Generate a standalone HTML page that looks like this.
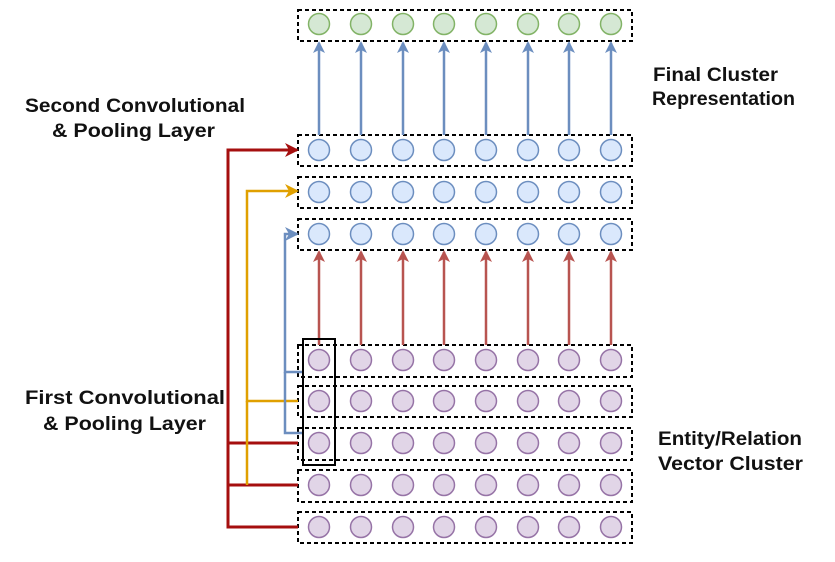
<!DOCTYPE html>
<html><head><meta charset="utf-8"><style>html,body{margin:0;padding:0;background:#fff}svg{display:block}text{font-family:"Liberation Sans",sans-serif;font-weight:bold;font-size:19px;fill:#111}</style></head>
<body>
<svg width="835" height="562" viewBox="0 0 835 562">
<defs>
<marker id="ab" markerWidth="12" markerHeight="12" refX="10" refY="6" orient="auto" markerUnits="userSpaceOnUse"><path d="M0,0 L12,6 L0,12 L3,6 z" fill="#6c8ebf"/></marker>
<marker id="ar" markerWidth="12" markerHeight="12" refX="10" refY="6" orient="auto" markerUnits="userSpaceOnUse"><path d="M0,0 L12,6 L0,12 L3,6 z" fill="#b85450"/></marker>
<marker id="ad" markerWidth="14" markerHeight="14" refX="12" refY="7" orient="auto" markerUnits="userSpaceOnUse"><path d="M0,0 L14,7 L0,14 L4,7 z" fill="#a50f0f"/></marker>
<marker id="ao" markerWidth="14" markerHeight="14" refX="12" refY="7" orient="auto" markerUnits="userSpaceOnUse"><path d="M0,0 L14,7 L0,14 L4,7 z" fill="#e0a000"/></marker>
<marker id="ab2" markerWidth="14" markerHeight="14" refX="12" refY="7" orient="auto" markerUnits="userSpaceOnUse"><path d="M0,0 L14,7 L0,14 L4,7 z" fill="#6c8ebf"/></marker>
</defs>
<g fill="none" stroke="#000" stroke-width="2" stroke-dasharray="4,3">
<rect x="298" y="10" width="334" height="31"/>
<rect x="298" y="135" width="334" height="31"/>
<rect x="298" y="177" width="334" height="31"/>
<rect x="298" y="219" width="334" height="31"/>
<rect x="298" y="345" width="334" height="32"/>
<rect x="298" y="386" width="334" height="31"/>
<rect x="298" y="428" width="334" height="32"/>
<rect x="298" y="470" width="334" height="32"/>
<rect x="298" y="512" width="334" height="31"/>
</g>
<g stroke="#6c8ebf" stroke-width="2.5" marker-end="url(#ab)">
<line x1="319" y1="135" x2="319" y2="43"/><line x1="361" y1="135" x2="361" y2="43"/><line x1="403" y1="135" x2="403" y2="43"/><line x1="444" y1="135" x2="444" y2="43"/><line x1="486" y1="135" x2="486" y2="43"/><line x1="528" y1="135" x2="528" y2="43"/><line x1="569" y1="135" x2="569" y2="43"/><line x1="611" y1="135" x2="611" y2="43"/>
</g>
<g stroke="#b85450" stroke-width="2.5" marker-end="url(#ar)">
<line x1="319" y1="345" x2="319" y2="252"/><line x1="361" y1="345" x2="361" y2="252"/><line x1="403" y1="345" x2="403" y2="252"/><line x1="444" y1="345" x2="444" y2="252"/><line x1="486" y1="345" x2="486" y2="252"/><line x1="528" y1="345" x2="528" y2="252"/><line x1="569" y1="345" x2="569" y2="252"/><line x1="611" y1="345" x2="611" y2="252"/>
</g>
<g fill="none" stroke-width="3">
<path d="M298,443 H228 V150 H297" stroke="#a50f0f" marker-end="url(#ad)"/>
<path d="M298,485 H228 M298,527 H228 V443" stroke="#a50f0f"/>
<path d="M298,401 H247 V191 H297" stroke="#e0a000" stroke-width="2.5" marker-end="url(#ao)"/>
<path d="M247,401 V485" stroke="#e0a000" stroke-width="2.5"/>
<path d="M302,372 H285 V234 H297" stroke="#6c8ebf" stroke-width="2.5" marker-end="url(#ab2)"/>
<path d="M285,372 V433 H302" stroke="#6c8ebf" stroke-width="2.5"/>
</g>
<g stroke-width="1.5">
<g fill="#d5e8d4" stroke="#82b366">
<circle cx="319" cy="24" r="10.5"/><circle cx="361" cy="24" r="10.5"/><circle cx="403" cy="24" r="10.5"/><circle cx="444" cy="24" r="10.5"/><circle cx="486" cy="24" r="10.5"/><circle cx="528" cy="24" r="10.5"/><circle cx="569" cy="24" r="10.5"/><circle cx="611" cy="24" r="10.5"/>
</g>
<g fill="#dae8fc" stroke="#6c8ebf">
<circle cx="319" cy="150" r="10.5"/><circle cx="361" cy="150" r="10.5"/><circle cx="403" cy="150" r="10.5"/><circle cx="444" cy="150" r="10.5"/><circle cx="486" cy="150" r="10.5"/><circle cx="528" cy="150" r="10.5"/><circle cx="569" cy="150" r="10.5"/><circle cx="611" cy="150" r="10.5"/>
<circle cx="319" cy="192" r="10.5"/><circle cx="361" cy="192" r="10.5"/><circle cx="403" cy="192" r="10.5"/><circle cx="444" cy="192" r="10.5"/><circle cx="486" cy="192" r="10.5"/><circle cx="528" cy="192" r="10.5"/><circle cx="569" cy="192" r="10.5"/><circle cx="611" cy="192" r="10.5"/>
<circle cx="319" cy="234" r="10.5"/><circle cx="361" cy="234" r="10.5"/><circle cx="403" cy="234" r="10.5"/><circle cx="444" cy="234" r="10.5"/><circle cx="486" cy="234" r="10.5"/><circle cx="528" cy="234" r="10.5"/><circle cx="569" cy="234" r="10.5"/><circle cx="611" cy="234" r="10.5"/>
</g>
<g fill="#e1d5e7" stroke="#9673a6">
<circle cx="319" cy="360" r="10.5"/><circle cx="361" cy="360" r="10.5"/><circle cx="403" cy="360" r="10.5"/><circle cx="444" cy="360" r="10.5"/><circle cx="486" cy="360" r="10.5"/><circle cx="528" cy="360" r="10.5"/><circle cx="569" cy="360" r="10.5"/><circle cx="611" cy="360" r="10.5"/>
<circle cx="319" cy="401" r="10.5"/><circle cx="361" cy="401" r="10.5"/><circle cx="403" cy="401" r="10.5"/><circle cx="444" cy="401" r="10.5"/><circle cx="486" cy="401" r="10.5"/><circle cx="528" cy="401" r="10.5"/><circle cx="569" cy="401" r="10.5"/><circle cx="611" cy="401" r="10.5"/>
<circle cx="319" cy="443" r="10.5"/><circle cx="361" cy="443" r="10.5"/><circle cx="403" cy="443" r="10.5"/><circle cx="444" cy="443" r="10.5"/><circle cx="486" cy="443" r="10.5"/><circle cx="528" cy="443" r="10.5"/><circle cx="569" cy="443" r="10.5"/><circle cx="611" cy="443" r="10.5"/>
<circle cx="319" cy="485" r="10.5"/><circle cx="361" cy="485" r="10.5"/><circle cx="403" cy="485" r="10.5"/><circle cx="444" cy="485" r="10.5"/><circle cx="486" cy="485" r="10.5"/><circle cx="528" cy="485" r="10.5"/><circle cx="569" cy="485" r="10.5"/><circle cx="611" cy="485" r="10.5"/>
<circle cx="319" cy="527" r="10.5"/><circle cx="361" cy="527" r="10.5"/><circle cx="403" cy="527" r="10.5"/><circle cx="444" cy="527" r="10.5"/><circle cx="486" cy="527" r="10.5"/><circle cx="528" cy="527" r="10.5"/><circle cx="569" cy="527" r="10.5"/><circle cx="611" cy="527" r="10.5"/>
</g>
</g>
<rect x="303" y="339" width="32" height="126" fill="none" stroke="#000" stroke-width="2"/>
<text x="25" y="112" textLength="220" lengthAdjust="spacingAndGlyphs">Second Convolutional</text>
<text x="52" y="137" textLength="163" lengthAdjust="spacingAndGlyphs">&amp; Pooling Layer</text>
<text x="25" y="404" textLength="200" lengthAdjust="spacingAndGlyphs">First Convolutional</text>
<text x="43" y="430" textLength="163" lengthAdjust="spacingAndGlyphs">&amp; Pooling Layer</text>
<text x="653" y="81" textLength="125" lengthAdjust="spacingAndGlyphs">Final Cluster</text>
<text x="652" y="105" textLength="143" lengthAdjust="spacingAndGlyphs">Representation</text>
<text x="658" y="445" textLength="144" lengthAdjust="spacingAndGlyphs">Entity/Relation</text>
<text x="658" y="470" textLength="145" lengthAdjust="spacingAndGlyphs">Vector Cluster</text>
</svg>
</body></html>
